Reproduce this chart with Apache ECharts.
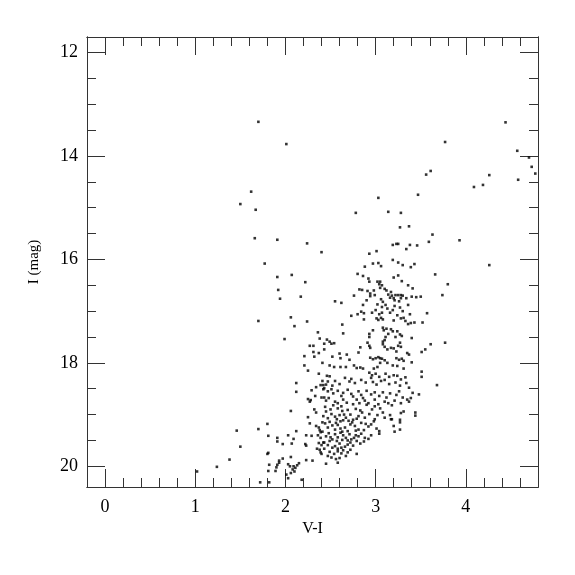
<!DOCTYPE html>
<html>
<head>
<meta charset="utf-8">
<script src="https://cdn.jsdelivr.net/npm/echarts@6/dist/echarts.min.js"></script>
<style>
html,body{margin:0;padding:0;background:#fff;}
#chart{width:575px;height:575px;}
</style>
</head>
<body>
<div id="chart"></div>
<script>
// Tick values
var xMajorTicks = [0, 1, 2, 3, 4];
var xMinorTicks = [0.2,0.4,0.6,0.8,1.2,1.4,1.6,1.8,2.2,2.4,2.6,2.8,3.2,3.4,3.6,3.8,4.2,4.4,4.6];
var yMajorTicks = [12, 14, 16, 18, 20];
var yMinorTicks = [12.5,13,13.5,14.5,15,15.5,16.5,17,17.5,18.5,19,19.5];

// Data: [V-I, I (mag)]
var sparseStars = [
[1.70,13.34],[2.01,13.77],[4.44,13.35],[3.77,13.73],[4.57,13.90],[4.70,14.03],[4.73,14.21],[4.77,14.34],
[3.56,14.36],[3.61,14.29],[4.26,14.37],[4.58,14.46],[4.09,14.60],[4.19,14.56],[1.62,14.69],[1.50,14.93],
[1.67,15.04],[3.03,14.81],[3.47,14.75],[2.78,15.10],[3.14,15.08],[3.28,15.10],[1.66,15.59],[1.91,15.62],
[2.24,15.69],[2.40,15.86],[3.93,15.63],[3.63,15.52],[4.26,16.11],[1.77,16.08],[1.91,16.34],[2.07,16.30],
[2.22,16.44],[1.92,16.59],[1.94,16.76],[2.17,16.72],[2.55,16.81],[2.62,16.84],[1.70,17.19],[2.06,17.12],
[2.24,17.20],[2.10,17.29],[2.36,17.41],[1.99,17.54],[2.38,17.53],[3.66,16.29],[3.80,16.48],[3.74,16.69],
[3.57,17.04],[3.52,17.22],[3.61,17.64],[3.77,17.61],[3.51,18.17],[3.51,18.27],[3.68,18.43],[3.48,18.61],
[3.41,18.58],[3.44,18.96],[3.44,19.02]
];
var upperClump = [
[3.27,15.38],[3.37,15.36],[3.59,15.66],[3.19,15.72],[3.23,15.70],[3.25,15.70],[3.38,15.72],[3.46,15.73],
[3.34,15.80],[2.93,15.89],[3.01,15.84],[3.19,16.01],[2.88,16.14],[2.97,16.08],[3.03,16.07],[3.06,16.13],
[3.25,16.06],[3.30,16.11],[3.43,16.09],[3.39,16.15],[2.80,16.28],[2.86,16.32],[2.92,16.37],[2.93,16.43],
[3.02,16.43],[3.05,16.43],[3.04,16.48],[3.07,16.50],[3.20,16.35],[3.25,16.31],[3.29,16.42],[3.36,16.50],
[3.41,16.56],[3.50,16.72],[3.45,16.73],[2.82,16.58],[2.85,16.59],[2.76,16.70],[2.91,16.61],[2.94,16.66],
[2.98,16.60],[2.99,16.69],[2.94,16.71],[2.90,16.79],[2.86,16.88],[2.84,17.01],[2.87,17.04],[3.05,16.55],
[3.10,16.57],[3.12,16.60],[3.14,16.68],[3.17,16.63],[3.18,16.70],[3.16,16.74],[3.20,16.75],[3.22,16.69],
[3.25,16.69],[3.28,16.69],[3.30,16.70],[3.21,16.79],[3.26,16.81],[3.28,16.75],[3.34,16.75],[3.40,16.72],
[3.06,16.77],[3.08,16.82],[3.11,16.88],[3.07,16.92],[3.13,16.95],[3.16,17.03],[3.19,16.98],[3.21,16.90],
[3.02,16.87],[3.00,16.98],[3.04,17.06],[3.07,17.03],[2.96,17.03],[3.27,16.93],[3.30,17.00],[3.24,17.08],
[3.36,16.88],[3.38,17.06],[2.80,17.06],[2.73,17.09],[2.87,17.16],[3.28,17.14],[3.31,17.13]
];
var middleBand = [
[3.01,17.14],[3.03,17.17],[3.06,17.13],[3.08,17.16],[3.20,17.18],[3.33,17.19],[3.36,17.25],[3.39,17.23],
[3.43,17.22],[2.63,17.26],[2.64,17.43],[2.46,17.55],[2.49,17.59],[2.43,17.63],[2.51,17.63],[2.54,17.62],
[2.43,17.74],[2.97,17.37],[2.93,17.44],[2.93,17.50],[3.08,17.32],[3.09,17.37],[3.12,17.34],[3.17,17.35],
[3.19,17.39],[3.11,17.50],[3.10,17.56],[3.08,17.59],[3.14,17.44],[3.24,17.39],[3.27,17.45],[3.29,17.48],
[3.22,17.50],[2.91,17.61],[2.93,17.67],[2.94,17.71],[3.27,17.61],[3.25,17.67],[3.28,17.69],[3.40,17.52],
[3.35,17.81],[3.37,17.84],[3.51,17.79],[3.55,17.74],[3.08,17.64],[3.10,17.69],[3.13,17.74],[3.17,17.71],
[3.20,17.72],[3.23,17.78],[2.83,17.70],[2.81,17.80],[2.60,17.82],[2.68,17.84],[2.71,17.94],[2.61,17.91],
[2.52,17.88],[2.41,18.00],[2.94,17.90],[2.97,17.93],[3.00,17.91],[3.03,17.89],[3.05,17.91],[3.07,17.92],
[3.10,17.95],[3.13,18.00],[3.05,18.00],[3.02,18.08],[2.98,18.11],[3.23,17.91],[3.26,17.94],[3.29,17.92],
[3.31,17.96],[3.19,18.05],[3.24,18.06],[3.31,18.11],[3.40,17.99],[2.76,18.05],[2.79,18.10],[2.83,18.09],
[2.86,18.11],[2.67,18.08],[2.61,18.08],[2.54,18.08],[2.49,18.05],[2.93,18.19],[2.96,18.24],[3.00,18.21],
[3.04,18.27],[3.11,18.21],[3.15,18.27],[3.20,18.24],[3.24,18.25],[3.28,18.32],[3.33,18.28],[2.46,18.25],
[2.49,18.26],[2.31,17.79],[2.37,17.81],[2.21,17.87],[2.32,17.88],[2.21,18.05],[2.25,18.15],[2.37,18.21],
[2.27,17.67],[2.31,17.67]
];
var lowerBand = [
[2.12,18.39],[2.39,18.43],[2.42,18.43],[2.34,18.47],[2.29,18.53],[2.42,18.51],[2.12,18.56],[2.33,18.64],
[2.43,18.67],[2.25,18.70],[2.28,18.72],[2.27,18.75],
[2.41,18.35],[2.45,18.42],[2.47,18.36],[2.52,18.44],[2.55,18.35],[2.60,18.41],[2.66,18.29],[2.71,18.36],
[2.73,18.31],[2.77,18.39],[2.84,18.33],[2.89,18.38],[2.95,18.29],[2.97,18.37],[3.01,18.42],[3.06,18.35],
[3.10,18.33],[3.15,18.41],[3.22,18.38],[3.27,18.44],[3.34,18.39],[3.37,18.48],
[2.43,18.49],[2.47,18.55],[2.51,18.51],[2.53,18.59],[2.58,18.54],[2.62,18.64],[2.64,18.58],[2.69,18.52],
[2.73,18.60],[2.75,18.65],[2.81,18.55],[2.84,18.62],[2.86,18.68],[2.90,18.54],[2.95,18.61],[2.99,18.57],
[3.04,18.64],[3.08,18.57],[3.12,18.67],[3.16,18.59],[3.23,18.62],[3.26,18.55],[3.30,18.67],[3.35,18.71],
[3.39,18.68],[2.40,18.67],[2.45,18.73],[2.48,18.68],[2.55,18.75],[2.58,18.78],[2.64,18.71],[2.68,18.77],
[2.75,18.80],[2.79,18.71],[2.82,18.78],[2.88,18.73],[2.92,18.78],[2.99,18.71],[3.03,18.80],[3.10,18.75],
[3.14,18.78],[3.21,18.73],[3.28,18.78]
];
var lowerClump = [
[2.53,18.82],[2.62,18.84],[2.90,18.81],[2.99,18.84],[3.18,18.82],[2.42,19.03],[2.45,18.94],[2.47,19.07],
[2.51,18.99],[2.57,19.09],[2.60,19.01],[2.63,18.93],[2.67,19.06],[2.72,19.00],[2.75,19.10],[2.81,19.03],
[2.85,18.96],[2.88,19.06],[2.93,18.99],[2.99,19.09],[3.02,19.01],[3.08,18.96],[3.10,19.06],[3.16,19.01],
[3.17,19.09],[2.50,18.90],[2.58,18.88],[2.69,18.91],[2.78,18.89],[2.83,18.92],[2.96,18.90],[3.05,18.88],
[2.55,19.04],[2.65,19.00],[2.79,19.08],[2.70,19.12],[2.61,19.13],
[2.44,19.17],[2.47,19.25],[2.49,19.14],[2.55,19.29],[2.58,19.20],[2.64,19.11],[2.66,19.25],[2.72,19.19],
[2.77,19.22],[2.81,19.29],[2.84,19.16],[2.92,19.23],[2.95,19.19],[3.01,19.27],[3.04,19.32],[2.41,19.33],
[2.52,19.21],[2.61,19.27],[2.69,19.32],[2.74,19.15],[2.87,19.30],[2.56,19.16],[2.63,19.33],[2.78,19.31],
[2.98,19.13],[2.89,19.18],
[2.45,19.42],[2.48,19.36],[2.52,19.48],[2.58,19.44],[2.61,19.35],[2.67,19.45],[2.71,19.38],[2.73,19.48],
[2.78,19.40],[2.84,19.37],[2.88,19.45],[2.95,19.40],[3.04,19.37],[2.55,19.38],[2.64,19.40],[2.69,19.50],
[2.76,19.45],[2.81,19.42],[2.57,19.51],[2.92,19.47],[2.50,19.44],
[2.43,19.54],[2.47,19.59],[2.49,19.51],[2.55,19.61],[2.60,19.56],[2.63,19.49],[2.69,19.58],[2.72,19.54],
[2.79,19.51],[2.83,19.56],[2.87,19.52],[2.38,19.68],[2.52,19.64],[2.58,19.66],[2.66,19.62],[2.75,19.60],
[2.62,19.64],
[2.47,19.80],[2.51,19.83],[2.54,19.76],[2.58,19.71],[2.62,19.75],[2.64,19.69],[2.69,19.73],[2.56,19.86],
[2.58,19.93],[2.79,19.76],[2.45,19.95],[2.49,19.72],[2.67,19.80],[2.60,19.84],[2.72,19.68],
[3.28,18.97],[3.27,19.10],[3.27,19.15],[3.20,19.22],[3.21,19.33],[3.27,19.29],[3.18,19.09],[3.37,18.75],
[3.31,18.94]
];
var faintLeft = [
[2.32,18.90],[2.34,18.96],[2.06,18.93],[2.44,18.85],[2.25,19.05],[2.27,19.17],[2.41,19.15],[2.34,19.22],
[2.37,19.25],[2.38,19.30],[2.39,19.34],[1.46,19.31],[1.70,19.28],[1.80,19.18],[1.81,19.41],[2.12,19.32],
[2.03,19.40],[1.91,19.45],[1.91,19.52],[2.09,19.47],[2.07,19.56],[1.97,19.57],[2.23,19.40],[2.29,19.41],
[2.22,19.57],[2.23,19.60],[2.36,19.40],[2.39,19.45],[2.37,19.55],[2.40,19.59],[2.42,19.54],[2.35,19.66],
[2.39,19.73],[2.40,19.76],[2.43,19.66],[1.50,19.62],[1.80,19.76],[1.81,19.74],[1.97,19.85],[2.06,19.82],
[2.23,19.88],[2.30,19.89],[1.93,19.89],[1.93,19.93],[1.91,19.97],[1.90,20.02],[1.89,20.09],[1.82,19.97],
[1.81,20.09],[2.03,19.96],[2.05,20.00],[2.08,20.06],[2.10,20.10],[2.09,20.00],[2.13,19.98],[2.15,19.94],
[2.11,20.03],[2.01,20.16],[2.03,20.23],[2.18,20.26],[1.72,20.31],[1.82,20.31],[2.06,20.13],
[1.02,20.10],[1.24,20.01],[1.38,19.87]
];

var allStars = [].concat(sparseStars, upperClump, middleBand, lowerBand, lowerClump, faintLeft);

var FONT = 'Liberation Serif';
var LINE = '#333';
var X_MIN = -0.2, X_MAX = 4.8, Y_MIN = 11.7, Y_MAX = 20.4;

function xAx(pos, ticks, len, labels, extra) {
  var o = {
    type: 'value', min: X_MIN, max: X_MAX, position: pos, gridIndex: 0,
    axisLine: {show: true, onZero: false, lineStyle: {color: LINE, width: 1}},
    axisTick: {show: true, inside: true, length: len, customValues: ticks, lineStyle: {color: LINE, width: 1}},
    axisLabel: labels ? {show: true, customValues: labels, fontFamily: FONT, fontSize: 18, color: '#000', margin: 11} : {show: false},
    splitLine: {show: false}, minorTick: {show: false}
  };
  return Object.assign(o, extra || {});
}
function yAx(pos, ticks, len, labels, extra) {
  var o = {
    type: 'value', min: Y_MIN, max: Y_MAX, inverse: true, position: pos, gridIndex: 0,
    axisLine: {show: true, onZero: false, lineStyle: {color: LINE, width: 1}},
    axisTick: {show: true, inside: true, length: len, customValues: ticks, lineStyle: {color: LINE, width: 1}},
    axisLabel: labels ? {show: true, customValues: labels, fontFamily: FONT, fontSize: 18, color: '#000', margin: 9} : {show: false},
    splitLine: {show: false}, minorTick: {show: false}
  };
  return Object.assign(o, extra || {});
}

var chart = echarts.init(document.getElementById('chart'), null, {renderer: 'canvas'});
chart.setOption({
  animation: false,
  backgroundColor: '#fff',
  textStyle: {fontFamily: FONT},
  grid: {left: 87, top: 37, width: 451, height: 450, containLabel: false},
  xAxis: [
    xAx('bottom', xMajorTicks, 18, xMajorTicks, {name: 'V-I', nameLocation: 'middle', nameGap: 28,
      nameTextStyle: {fontFamily: FONT, fontSize: 16, color: '#000'}}),
    xAx('bottom', xMinorTicks, 9, null),
    xAx('top', xMajorTicks, 18, null),
    xAx('top', xMinorTicks, 9, null)
  ],
  yAxis: [
    yAx('left', yMajorTicks, 18, yMajorTicks, {name: 'I (mag)', nameLocation: 'middle', nameGap: 45,
      nameTextStyle: {fontFamily: FONT, fontSize: 15, color: '#000'}}),
    yAx('left', yMinorTicks, 9, null),
    yAx('right', yMajorTicks, 18, null),
    yAx('right', yMinorTicks, 9, null)
  ],
  series: [{
    type: 'scatter', xAxisIndex: 0, yAxisIndex: 0,
    data: allStars, symbol: 'rect', symbolSize: 2.6,
    itemStyle: {color: '#000'}, silent: true
  }]
});
</script>
</body>
</html>
